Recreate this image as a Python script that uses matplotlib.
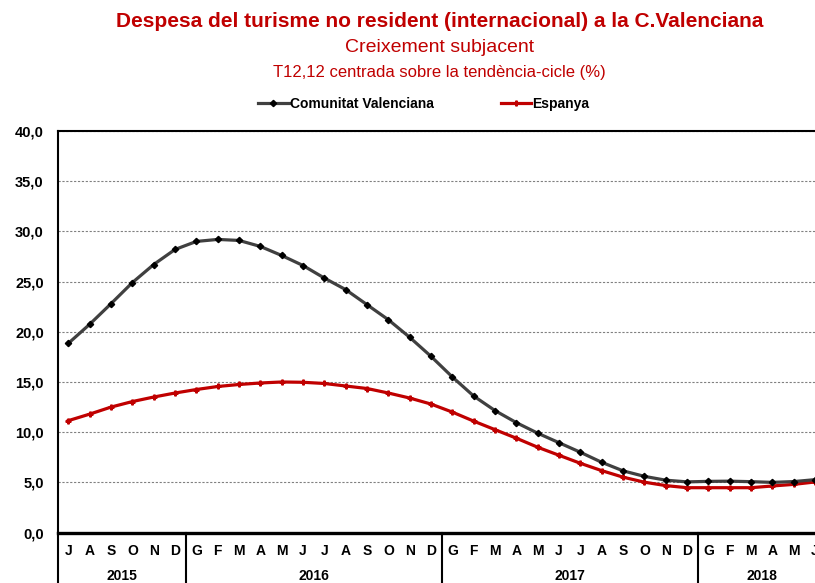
import matplotlib
matplotlib.use("Agg")
import matplotlib.pyplot as plt
from matplotlib import font_manager
import matplotlib.transforms as mtransforms

# ---- data ----
months = ["J", "A", "S", "O", "N", "D",
          "G", "F", "M", "A", "M", "J", "J", "A", "S", "O", "N", "D",
          "G", "F", "M", "A", "M", "J", "J", "A", "S", "O", "N", "D",
          "G", "F", "M", "A", "M", "J"]
years = ["2015", "2016", "2017", "2018"]
year_counts = [6, 12, 12, 6]

comunitat_valenciana = [18.85, 20.75, 22.8, 24.9, 26.7, 28.2,
                        29.0, 29.2, 29.1, 28.5, 27.6, 26.6, 25.35, 24.2, 22.7, 21.2, 19.45, 17.55,
                        15.5, 13.6, 12.15, 10.95, 9.9, 8.95, 8.0, 7.0, 6.15, 5.6, 5.22, 5.05,
                        5.1, 5.12, 5.07, 5.0, 5.08, 5.27]
espanya = [11.15, 11.8, 12.5, 13.05, 13.5, 13.9,
           14.25, 14.55, 14.75, 14.9, 15.0, 14.97, 14.85, 14.6, 14.35, 13.9, 13.4, 12.8,
           12.0, 11.1, 10.25, 9.4, 8.5, 7.7, 6.9, 6.17, 5.52, 5.02, 4.68, 4.47,
           4.47, 4.47, 4.47, 4.64, 4.8, 5.04]

series_names = ["Comunitat Valenciana", "Espanya"]

title = "Despesa del turisme no resident (internacional) a la C.Valenciana"
subtitle1 = "Creixement subjacent"
subtitle2 = "T12,12 centrada sobre la tendència-cicle (%)"

# ---- fonts ----
avail = {f.name for f in font_manager.fontManager.ttflist}
fam = "Liberation Sans Narrow" if "Liberation Sans Narrow" in avail else "Liberation Sans"
plt.rcParams['font.family'] = [fam, 'DejaVu Sans']

RED = "#C00000"
GREY = "#404040"

fig = plt.figure(figsize=(8.15, 5.83), dpi=100)
ax = fig.add_axes([0.0708, 0.0865, 0.9423, 0.6888])

x = list(range(len(months)))
ax.plot(x, comunitat_valenciana, color=GREY, lw=2.3, marker="D", ms=3.2,
        mfc="black", mec="black", label=series_names[0], zorder=4)
ax.plot(x, espanya, color=RED, lw=2.3, marker="P", ms=3.5,
        mfc=RED, mec=RED, label=series_names[1], zorder=3)

ax.set_xlim(-0.5, len(months) - 0.5)
ax.set_ylim(0, 40)
ax.set_yticks([0, 5, 10, 15, 20, 25, 30, 35, 40])
ax.set_yticklabels([f"{v:.1f}".replace(".", ",") for v in ax.get_yticks()],
                   fontsize=10.5, fontweight="bold")
ax.tick_params(axis="y", length=0, pad=10)
ax.yaxis.grid(True, color="#808080", ls=(0, (2, 1.5)), lw=0.8)
ax.set_axisbelow(True)

ax.set_xticks(x)
ax.set_xticklabels(months, fontsize=10, fontweight="bold")
ax.tick_params(axis="x", length=0, pad=8)

for s in ["left", "top"]:
    ax.spines[s].set_linewidth(1.5)
ax.spines["bottom"].set_linewidth(2.4)
ax.spines["right"].set_visible(False)

# year separators and labels
trans = mtransforms.blended_transform_factory(ax.transData, ax.transAxes)
start = -0.5
bounds = [start]
for c in year_counts:
    start += c
    bounds.append(start)
for b in bounds[:-1]:
    ax.plot([b, b], [0, -0.13], transform=trans, color="black", lw=1.5, clip_on=False)
for i, yname in enumerate(years):
    cx = (bounds[i] + bounds[i + 1]) / 2
    ax.text(cx, -0.107, yname, transform=trans, ha="center", va="center",
            fontsize=10, fontweight="bold")

# titles
fig.text(0.539, 0.963, title, ha="center", va="center", color=RED,
         fontsize=15, fontweight="bold")
fig.text(0.539, 0.918, subtitle1, ha="center", va="center", color=RED, fontsize=14)
fig.text(0.539, 0.875, subtitle2, ha="center", va="center", color=RED, fontsize=12)

leg = fig.legend(loc="center", bbox_to_anchor=(0.52, 0.822), ncol=2, frameon=False,
                 prop={"size": 10, "weight": "bold"}, handlelength=2.2,
                 handletextpad=0.1, columnspacing=4.8)

fig.savefig("out.png", dpi=100)
